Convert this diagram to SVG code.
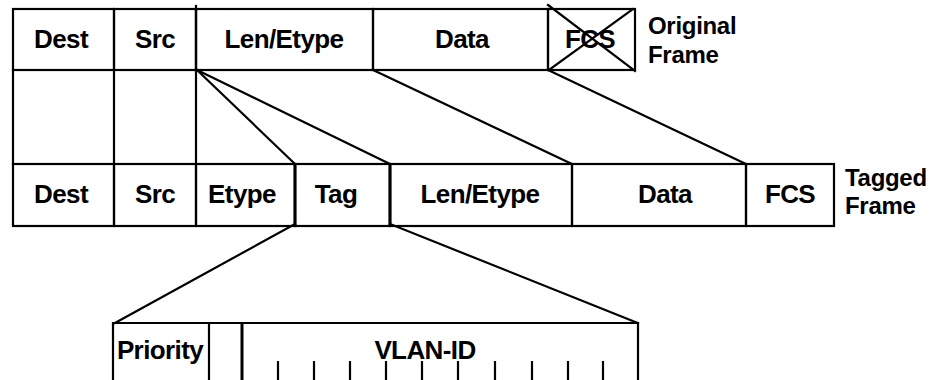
<svg xmlns="http://www.w3.org/2000/svg" width="936" height="380" viewBox="0 0 936 380">
<style>
.c{fill:none;stroke:#000;stroke-width:2.2;stroke-linecap:square}
.t{font-family:"Liberation Sans",Arial,sans-serif;font-weight:bold;font-size:26px;fill:#000;text-anchor:middle;letter-spacing:-0.6px}
.l{font-family:"Liberation Sans",Arial,sans-serif;font-weight:bold;font-size:24px;fill:#000;letter-spacing:-0.3px}
</style>
<rect width="936" height="380" fill="#fff"/>
<g id="original-frame">
  <g id="o-dest"><rect class="c" x="13" y="9" width="101" height="61"/><text class="t" x="61" y="48">Dest</text></g>
  <g id="o-src"><rect class="c" x="114" y="9" width="82" height="61"/><text class="t" x="155" y="48">Src</text></g>
  <g id="o-len"><rect class="c" x="196" y="9" width="177" height="61"/><text class="t" x="284" y="48">Len/Etype</text></g>
  <g id="o-data"><rect class="c" x="373" y="9" width="175" height="61"/><text class="t" x="462" y="48">Data</text></g>
  <g id="o-fcs"><rect class="c" x="548" y="9" width="87" height="61"/><text class="t" x="590" y="48">FCS</text>
    <line class="c" x1="548" y1="5" x2="635" y2="71"/><line class="c" x1="549" y1="70" x2="633" y2="9"/></g>
  <g id="o-label"><text class="l" x="648" y="34">Original</text><text class="l" x="648" y="63">Frame</text></g>
</g>
<g id="grid">
  <line class="c" x1="13" y1="70" x2="13" y2="164"/>
  <line class="c" x1="114" y1="70" x2="114" y2="164"/>
  <line class="c" x1="196" y1="6" x2="196" y2="164"/>
</g>
<g id="tagged-frame">
  <g id="t-dest"><rect class="c" x="13" y="164" width="101" height="62"/><text class="t" x="61" y="203">Dest</text></g>
  <g id="t-src"><rect class="c" x="114" y="164" width="82" height="62"/><text class="t" x="155" y="203">Src</text></g>
  <g id="t-etype"><rect class="c" x="196" y="164" width="99" height="62"/><text class="t" x="242" y="203">Etype</text></g>
  <g id="t-tag"><rect class="c" x="295" y="164" width="95" height="62"/><text class="t" x="336" y="203">Tag</text></g>
  <g id="t-len"><rect class="c" x="390" y="164" width="182" height="62"/><text class="t" x="480" y="203">Len/Etype</text></g>
  <g id="t-data"><rect class="c" x="572" y="164" width="174" height="62"/><text class="t" x="665" y="203">Data</text></g>
  <g id="t-fcs"><rect class="c" x="746" y="164" width="88" height="62"/><text class="t" x="790" y="203">FCS</text></g>
  <g id="t-label"><text class="l" x="845" y="186">Tagged</text><text class="l" x="845" y="214">Frame</text></g>
</g>
<g id="tag-detail">
  <g id="d-priority"><path class="c" d="M113,380 V323 H209 V380"/><text class="t" x="160" y="359">Priority</text></g>
  <g id="d-cfi"><path class="c" d="M209,323 H242"/><line x1="242" y1="323" x2="242" y2="380" stroke="#000" stroke-width="3"/></g>
  <g id="d-vlan"><path class="c" d="M242,323 H638 V380"/><text class="t" x="425" y="359">VLAN-ID</text>
    <path class="c" d="M278,362V380M314,362V380M350,362V380M386,362V380M422,362V380M458,362V380M495,362V380M532,362V380M568,362V380M603,362V380"/></g>
</g>
<g id="connectors">
  <line class="c" x1="197" y1="70" x2="295" y2="164"/>
  <line class="c" x1="197" y1="70" x2="390" y2="164"/>
  <line class="c" x1="373" y1="70" x2="572" y2="164"/>
  <line class="c" x1="548" y1="70" x2="746" y2="164"/>
  <line class="c" x1="295" y1="224" x2="115" y2="323"/>
  <line class="c" x1="390" y1="224" x2="638" y2="323"/>
  <line x1="295" y1="164" x2="295" y2="226" stroke="#000" stroke-width="3"/>
  <line x1="390" y1="164" x2="390" y2="226" stroke="#000" stroke-width="3"/>
</g>
</svg>
